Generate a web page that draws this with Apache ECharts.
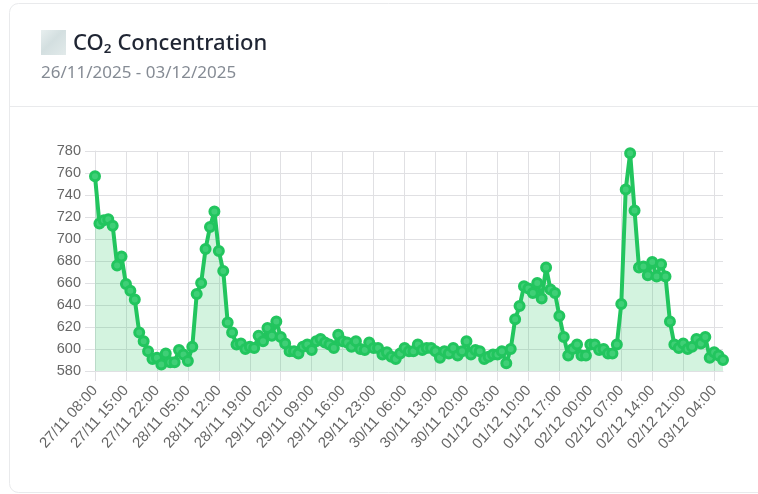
<!DOCTYPE html>
<html><head><meta charset="utf-8">
<style>html,body{margin:0;padding:0;background:#fff;overflow:hidden}#c{width:758px;height:494px}</style>
<script src="https://cdn.jsdelivr.net/npm/echarts@6/dist/echarts.min.js"></script>
</head><body><div id="c"></div>
<script>
const titleText = 'CO₂ Concentration';
const subtitleText = '26/11/2025 - 03/12/2025';
const startDay = [27, 11];
const startHour = 8;
const co2Values = [
 757,714,717,718,712,676,684,659,653,645,
 615,607,598,591,592,586,596,588,588,599,
 595,589,602,650,660,691,711,725,689,671,
 624,615,604,605,600,602,601,612,607,619,
 612,625,611,605,598,598,596,602,604,599,
 607,609,606,604,601,613,607,606,602,607,
 600,599,606,601,601,595,597,593,591,596,
 601,598,598,604,599,601,601,598,592,598,
 596,601,594,598,607,595,599,598,591,593,
 595,595,598,587,600,627,639,657,655,651,
 660,646,674,654,651,630,611,594,600,604,
 594,594,604,604,599,600,596,596,604,641,
 745,778,726,674,675,667,679,666,677,666,
 625,604,601,605,600,602,609,605,611,592,
 597,594,590
];
const monthDays = {11:30, 12:31};
const pad = n => String(n).padStart(2,'0');
const categories = [];
let d = startDay[0], m = startDay[1], h = startHour;
for (let i = 0; i < co2Values.length; i++) {
  categories.push(pad(d)+'/'+pad(m)+' '+pad(h)+':00');
  h++;
  if (h === 24) { h = 0; d++; if (d > monthDays[m]) { d = 1; m++; } }
}
const GRID = '#e0e0e3', GREEN = '#22c55e';
const chart = echarts.init(document.getElementById('c'), null, {renderer:'canvas'});
chart.setOption({
  animation:false,
  backgroundColor:'#fff',
  title:[
    {text:titleText,left:73,top:33,padding:0,textStyle:{fontFamily:'"Noto Sans"',fontSize:22,fontWeight:500,color:'#1f2533'}},
    {text:subtitleText,left:41,top:65,padding:0,textStyle:{fontFamily:'"Noto Sans"',fontSize:17,fontWeight:400,color:'#858b94'}}
  ],
  graphic:[
    {type:'rect',z:-10,shape:{x:9.5,y:3.5,width:780,height:489,r:9},style:{fill:'#fff',stroke:'#e9eaec',lineWidth:1}},
    {type:'line',z:-10,shape:{x1:10,y1:106.5,x2:758,y2:106.5},style:{stroke:'#e9eaec',lineWidth:1}},
    {type:'rect',z:-10,shape:{x:41,y:30,width:25,height:25},style:{fill:{type:'linear',x:0,y:0,x2:1,y2:1,colorStops:[{offset:0,color:'#e8efef'},{offset:0.45,color:'#d3dfe0'},{offset:1,color:'#e2eaea'}]}}}
  ],
  grid:{left:95,right:35,top:151,bottom:123,containLabel:false},
  xAxis:{
    type:'category',boundaryGap:false,data:categories,
    axisLine:{show:true,lineStyle:{color:GRID}},
    axisTick:{show:true,interval:6,length:10,lineStyle:{color:GRID}},
    splitLine:{show:true,interval:6,lineStyle:{color:GRID}},
    axisLabel:{interval:6,rotate:48,margin:17,fontFamily:'"Liberation Sans"',fontSize:15,color:'#666'}
  },
  yAxis:{
    type:'value',min:580,max:780,interval:20,
    axisLine:{show:true,lineStyle:{color:GRID}},
    axisTick:{show:true,length:10,lineStyle:{color:GRID}},
    splitLine:{show:true,lineStyle:{color:GRID}},
    axisLabel:{margin:14,fontFamily:'"Liberation Sans"',fontSize:14.5,color:'#666'}
  },
  series:[{
    type:'line',data:co2Values,smooth:false,
    symbol:'circle',symbolSize:9,showAllSymbol:true,
    lineStyle:{color:GREEN,width:4},
    itemStyle:{color:'#3fcf76',borderColor:GREEN,borderWidth:3},
    areaStyle:{color:'rgba(34,197,94,0.2)',opacity:1}
  }]
});
</script></body></html>
